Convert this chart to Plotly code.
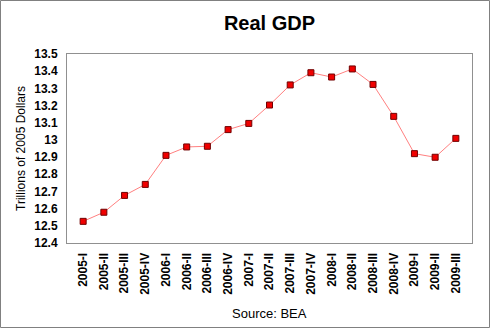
import plotly.graph_objects as go

quarters = ["2005-I", "2005-II", "2005-III", "2005-IV",
            "2006-I", "2006-II", "2006-III", "2006-IV",
            "2007-I", "2007-II", "2007-III", "2007-IV",
            "2008-I", "2008-II", "2008-III", "2008-IV",
            "2009-I", "2009-II", "2009-III"]
gdp = [12.526, 12.579, 12.677, 12.741,
       12.910, 12.959, 12.963, 13.060,
       13.096, 13.203, 13.320, 13.391,
       13.366, 13.413, 13.323, 13.137,
       12.920, 12.899, 13.009]
ytickvals = [12.4, 12.5, 12.6, 12.7, 12.8, 12.9, 13.0, 13.1, 13.2, 13.3, 13.4, 13.5]
yticktext = ["12.4", "12.5", "12.6", "12.7", "12.8", "12.9", "13", "13.1", "13.2", "13.3", "13.4", "13.5"]

FONT = "Liberation Sans, Arial, sans-serif"
W, H = 490, 328
L, R, T, B = 67, 18, 54, 85
PW, PH = W - L - R, H - T - B

fig = go.Figure()
fig.add_trace(go.Scatter(
    x=list(range(len(quarters))), y=gdp, mode="lines+markers",
    line=dict(color="#ff8080", width=1),
    marker=dict(symbol="square", size=6, color="#f00000",
                line=dict(color="#700000", width=1)),
    showlegend=False, hoverinfo="skip"))

fig.update_layout(
    width=W, height=H,
    margin=dict(l=L, r=R, t=T, b=B, pad=0),
    paper_bgcolor="white", plot_bgcolor="white",
    font=dict(family=FONT, size=12, color="black"),
    title=dict(text="<b>Real GDP</b>", x=(L + PW / 2) / W, xanchor="center",
               y=1 - 23 / H, yanchor="middle",
               font=dict(family=FONT, size=20, color="black")),
    xaxis=dict(range=[-0.78, len(quarters) - 1 + 0.78],
               tickmode="array", tickvals=list(range(len(quarters))),
               ticktext=["<b>%s</b>" % q for q in quarters],
               tickangle=-90, showgrid=False, zeroline=False,
               showline=True, linecolor="#909090", linewidth=1, mirror=True,
               ticks="", ticklabelstandoff=4,
               tickfont=dict(family=FONT, size=12, color="black")),
    yaxis=dict(range=[12.4, 13.5], tickmode="array", tickvals=ytickvals,
               ticktext=["<b>%s</b>" % t for t in yticktext],
               showgrid=False, zeroline=False,
               showline=True, linecolor="#909090", linewidth=1, mirror=True,
               ticks="", ticklabelstandoff=6,
               tickfont=dict(family=FONT, size=12, color="black"),
               title=dict(text="Trillions of 2005 Dollars", standoff=6,
                          font=dict(family=FONT, size=12, color="black"))),
)

fig.add_annotation(text="Source: BEA", xref="paper", yref="paper",
                   x=0.5, y=-(313 - T - PH) / PH, xanchor="center", yanchor="middle",
                   showarrow=False, font=dict(family=FONT, size=13, color="black"))

fig.add_shape(type="rect", xref="paper", yref="paper",
              x0=(0.5 - L) / PW, x1=(W - 0.5 - L) / PW,
              y0=-(H - 0.5 - T - PH) / PH, y1=(T + PH - 0.5) / PH,
              line=dict(color="#808080", width=1), fillcolor="rgba(0,0,0,0)",
              layer="below")

fig.write_html("out.html")
